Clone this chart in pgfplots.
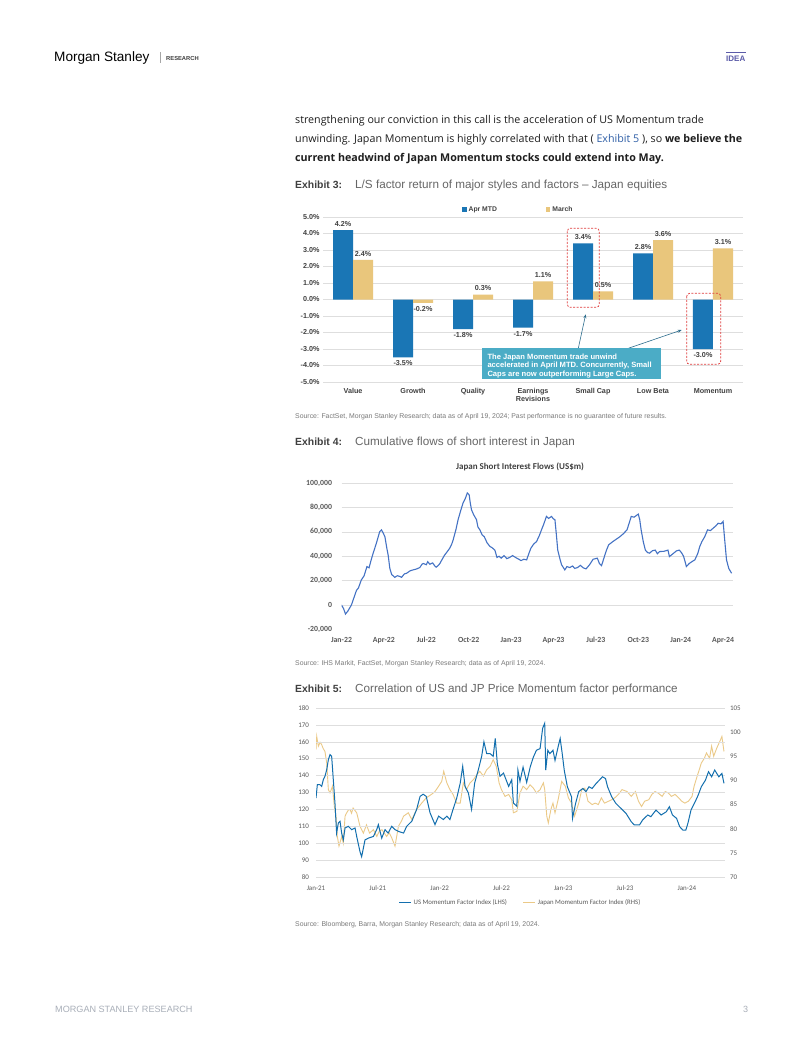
\documentclass[border=0pt]{standalone}
\usepackage{fontspec}
\setmainfont{Liberation Sans}
\newfontfamily\osans{Open Sans}
\newfontfamily\carl{Carlito}
\usepackage{pgfplots}
\pgfplotsset{compat=1.18}
\usetikzlibrary{arrows.meta}
\definecolor{barblue}{HTML}{1A76B5}
\definecolor{baryel}{HTML}{E9C67C}
\definecolor{callout}{HTML}{4BACC6}
\definecolor{arrowc}{HTML}{2E6E8E}
\definecolor{boxred}{HTML}{E03C3C}
\definecolor{gridc}{HTML}{DEDEDE}
\definecolor{axg}{HTML}{404040}
\definecolor{axg2}{HTML}{595959}
\definecolor{flowblue}{HTML}{4472C4}
\definecolor{usblue}{HTML}{136FAE}
\definecolor{jpyel}{HTML}{EBC987}
\definecolor{bodytxt}{HTML}{1E1E1E}
\definecolor{subt}{HTML}{666666}
\definecolor{srcc}{HTML}{7A7A7A}
\definecolor{linkb}{HTML}{2F5FA7}
\definecolor{ideac}{HTML}{5B5BA8}
\definecolor{footc}{HTML}{A8AEB8}
\newcommand{\fs}[1]{\fontsize{#1}{#1}\selectfont}
\newcommand{\fsb}[2]{\fontsize{#1}{#2}\selectfont}
\begin{document}
\begin{tikzpicture}
\useasboundingbox[fill=white] (0pt,0pt) rectangle (802pt,-1037pt);
% header
\node[anchor=base west, inner sep=0pt, font=\fs{13.6}] at (54pt,-61pt) {Morgan Stanley};
\draw[gray!70, line width=0.6pt] (160pt,-52pt) -- (160pt,-63pt);
\node[anchor=base west, inner sep=0pt, font=\bfseries\fs{5.8}, text=axg] at (166pt,-60pt) {RESEARCH};
\draw[ideac, line width=1pt] (726pt,-52pt) -- (746pt,-52pt);
\node[anchor=base west, inner sep=0pt, font=\bfseries\fs{8}, text=ideac] at (726pt,-61pt) {IDEA};
% footer
\node[anchor=base west, inner sep=0pt, font=\fs{9.1}, text=footc] at (55pt,-1012pt) {MORGAN STANLEY RESEARCH};
\node[anchor=base west, inner sep=0pt, font=\fs{9}, text=footc] at (743pt,-1012pt) {3};
% body
\node[anchor=base west, inner sep=0pt, font=\osans\fs{10.7}, text=bodytxt] at (295pt,-123pt) {strengthening our conviction in this call is the acceleration of US Momentum trade};
\node[anchor=base west, inner sep=0pt, font=\osans\fs{10.7}, text=bodytxt] at (295pt,-142pt) {unwinding. Japan Momentum is highly correlated with that ( \textcolor{linkb}{Exhibit 5} ), so \textbf{we believe the}};
\node[anchor=base west, inner sep=0pt, font=\osans\bfseries\fs{10.7}, text=bodytxt] at (295pt,-161pt) {current headwind of Japan Momentum stocks could extend into May.};
% exhibit titles
\node[anchor=base west, inner sep=0pt, font=\bfseries\fs{10.4}, text=axg] at (295pt,-188pt) {Exhibit 3:};
\node[anchor=base west, inner sep=0pt, font=\fs{11.7}, text=subt] at (355pt,-188pt) {L/S factor return of major styles and factors -- Japan equities};
\node[anchor=base west, inner sep=0pt, font=\fs{6.9}, text=srcc] at (295pt,-418pt) {Source: FactSet, Morgan Stanley Research; data as of April 19, 2024; Past performance is no guarantee of future results.};
\node[anchor=base west, inner sep=0pt, font=\bfseries\fs{10.4}, text=axg] at (295pt,-445pt) {Exhibit 4:};
\node[anchor=base west, inner sep=0pt, font=\fs{11.7}, text=subt] at (355pt,-445pt) {Cumulative flows of short interest in Japan};
\node[anchor=base west, inner sep=0pt, font=\fs{6.9}, text=srcc] at (295pt,-665.5pt) {Source: IHS Markit, FactSet, Morgan Stanley Research; data as of April 19, 2024.};
\node[anchor=base west, inner sep=0pt, font=\bfseries\fs{10.4}, text=axg] at (295pt,-692pt) {Exhibit 5:};
\node[anchor=base west, inner sep=0pt, font=\fs{11.7}, text=subt] at (355pt,-692pt) {Correlation of US and JP Price Momentum factor performance};
\node[anchor=base west, inner sep=0pt, font=\fs{6.9}, text=srcc] at (295pt,-926pt) {Source: Bloomberg, Barra, Morgan Stanley Research; data as of April 19, 2024.};

% ===== Exhibit 3 =====
\begin{axis}[
  at={(323pt,-217pt)}, anchor=north west, scale only axis,
  width=420pt, height=165pt,
  xmin=-0.5, xmax=6.5, ymin=-5, ymax=5,
  ybar=0pt, bar width=20pt,
  axis line style={draw=none}, tick style={draw=none}, major tick length=0pt,
  ymajorgrids, grid style={draw=gridc, line width=0.6pt},
  ytick={-5,-4,-3,-2,-1,0,1,2,3,4,5},
  yticklabels={-5.0\%,-4.0\%,-3.0\%,-2.0\%,-1.0\%,0.0\%,1.0\%,2.0\%,3.0\%,4.0\%,5.0\%},
  xtick={0,1,2,3,4,5,6},
  xticklabels={Value,Growth,Quality,{Earnings\\Revisions},Small Cap,Low Beta,Momentum},
  ticklabel style={font=\bfseries\fs{7.2}, text=axg},
  xticklabel style={align=center, yshift=-3pt, font={\bfseries\fsb{7.2}{8}}},
  point meta=y,
  nodes near coords={\pgfmathprintnumber[fixed,fixed zerofill,precision=1,assume math mode=true]{\pgfplotspointmeta}\%},
  nodes near coords align={vertical},
  nodes near coords style={font=\bfseries\fs{7.2}, text=axg},
  legend style={at={(0.465,1)}, anchor=south, draw=none, fill=none, font=\bfseries\fs{6.8}, text=axg},
  legend columns=2,
  legend style={/tikz/every even column/.append style={column sep=47pt}},
  legend cell align=left,
]
\addplot[fill=barblue, draw=none, legend image code/.code={\fill[barblue] (0pt,-2.2pt) rectangle (4.5pt,2.2pt);}]
  coordinates {(0,4.2) (1,-3.5) (2,-1.8) (3,-1.7) (4,3.4) (5,2.8) (6,-3.0)};
\addlegendentry{Apr MTD}
\addplot[fill=baryel, draw=none, legend image code/.code={\fill[baryel] (0pt,-2.2pt) rectangle (4.5pt,2.2pt);}]
  coordinates {(0,2.4) (1,-0.2) (2,0.3) (3,1.1) (4,0.5) (5,3.6) (6,3.1)};
\addlegendentry{March}
\end{axis}
% annotations exhibit 3
\draw[boxred, line width=0.7pt, dash pattern=on 2pt off 1.5pt, rounded corners=3pt] (567.3pt,-228.3pt) rectangle (599.3pt,-307.3pt);
\draw[boxred, line width=0.7pt, dash pattern=on 2pt off 1.5pt, rounded corners=3pt] (686.7pt,-293.3pt) rectangle (720.7pt,-364.3pt);
\draw[arrowc, line width=0.6pt, -{Stealth[length=4pt,width=3pt]}] (578.3pt,-348.3pt) -- (585.7pt,-314.3pt);
\draw[arrowc, line width=0.6pt, -{Stealth[length=4pt,width=3pt]}] (628.3pt,-348.3pt) -- (681.7pt,-330pt);
\fill[callout] (482pt,-348pt) rectangle (661pt,-379pt);
\node[anchor=north west, inner sep=0pt, align=left, text=white, font={\bfseries\fsb{7.6}{8.4}}] at (487.3pt,-353.5pt)
  {The Japan Momentum trade unwind\\accelerated in April MTD. Concurrently, Small\\Caps are now outperforming Large Caps.};

% ===== Exhibit 4 =====
\node[font=\carl\bfseries\fs{9}, text=axg] at (520pt,-467pt) {Japan Short Interest Flows (US\$m)};
\begin{axis}[
  at={(341.5pt,-483pt)}, anchor=north west, scale only axis,
  width=391.5pt, height=146.4pt,
  xmin=0, xmax=27.7, ymin=-20000, ymax=100000,
  axis line style={draw=none}, tick style={draw=none}, major tick length=0pt,
  ymajorgrids, grid style={draw=gridc, line width=0.6pt},
  scaled y ticks=false,
  ytick={0,20000,40000,60000,80000,100000},
  yticklabels={0,{20,000},{40,000},{60,000},{80,000},{100,000}},
  extra y ticks={-20000}, extra y tick labels={-20{,}000},
  extra y tick style={grid=none},
  xtick={0,3,6,9,12,15,18,21,24,27},
  xticklabels={Jan-22,Apr-22,Jul-22,Oct-22,Jan-23,Apr-23,Jul-23,Oct-23,Jan-24,Apr-24},
  ticklabel style={font=\carl\bfseries\fs{7.8}, text=axg2},
  yticklabel style={xshift=-6pt},
  xticklabel style={yshift=-4.5pt},
]
\addplot[flowblue, line width=1.1pt] coordinates {
(0,0) (0.15,-3000) (0.28,-7400) (0.45,-5000) (0.6,-2000) (0.7,0) (0.85,5000) (1.06,12000) (1.2,14000) (1.4,20500) (1.6,24000) (1.8,31500) (1.95,30500) (2.1,37000) (2.24,42500) (2.45,50000) (2.7,60000) (2.83,61600) (2.95,59000) (3.07,56000) (3.2,47000) (3.3,41000) (3.42,30000) (3.55,25000) (3.77,22700) (3.95,24000) (4.1,23500) (4.25,22700) (4.45,25500) (4.6,26000) (4.85,28000) (5.07,28800) (5.3,29500) (5.54,30700) (5.7,33500) (5.8,34000) (6.0,33000) (6.1,35500) (6.25,33400) (6.45,34500) (6.6,32000) (6.7,31000) (6.85,32500) (6.96,34000) (7.1,37000) (7.3,41000) (7.5,44000) (7.66,46600) (7.8,50000) (7.9,53400) (8.1,62000) (8.25,70000) (8.45,78000) (8.6,83600) (8.75,87000) (8.9,91800) (9.03,90400) (9.12,83000) (9.2,78000) (9.35,74000) (9.55,70000) (9.65,64000) (9.79,61600) (9.95,57500) (10.1,56000) (10.3,51000) (10.5,48000) (10.65,47000) (10.85,45000) (11.0,39000) (11.15,40000) (11.3,38400) (11.5,40500) (11.7,38000) (11.9,39000) (12.1,40500) (12.4,38400) (12.55,37500) (12.7,36400) (12.9,37500) (13.1,37000) (13.25,42000) (13.4,46600) (13.6,50000) (13.8,52000) (14.0,57000) (14.15,61600) (14.3,66000) (14.5,72600) (14.65,71000) (14.86,72600) (15.0,70500) (15.1,70000) (15.2,58000) (15.3,45000) (15.45,38000) (15.57,33000) (15.8,28800) (15.95,31500) (16.15,30700) (16.35,32000) (16.5,30000) (16.7,30700) (16.9,32500) (17.1,30500) (17.3,29600) (17.55,33000) (17.8,37500) (18.1,38400) (18.25,34000) (18.4,32300) (18.6,39700) (18.75,45000) (18.9,49300) (19.2,52000) (19.45,54000) (19.7,56000) (19.95,58500) (20.2,61600) (20.35,67000) (20.5,72600) (20.7,72000) (21.0,74500) (21.1,70000) (21.2,61600) (21.35,52000) (21.5,45000) (21.65,43000) (21.8,42500) (22.0,44500) (22.2,45000) (22.35,42000) (22.5,43800) (22.8,44000) (23.1,45000) (23.2,39700) (23.45,42000) (23.7,44400) (23.9,45000) (24.05,43000) (24.2,40000) (24.3,36000) (24.4,31500) (24.6,34000) (24.8,35600) (25.0,37000) (25.2,42000) (25.35,48000) (25.5,52000) (25.7,56000) (25.9,61600) (26.1,61000) (26.3,63000) (26.5,65000) (26.65,67000) (26.85,66500) (27.0,68500) (27.1,55000) (27.24,37000) (27.4,30000) (27.6,26000)
};
\end{axis}

% ===== Exhibit 5 (right axis, Japan) =====
\begin{axis}[
  at={(316pt,-708pt)}, anchor=north west, scale only axis,
  width=409pt, height=169pt,
  xmin=0, xmax=39.7, ymin=70, ymax=105,
  axis line style={draw=none}, tick style={draw=none}, major tick length=0pt,
  xtick=\empty,
  ytick={70,75,80,85,90,95,100,105},
  yticklabels={70,75,80,85,90,95,100,105},
  yticklabel pos=right,
  ticklabel style={font=\carl\fs{7}, text=axg2},
  yticklabel style={xshift=1.5pt},
  legend style={at={(0.5,0)}, anchor=north, yshift=-18pt, draw=none, fill=none,
    font=\carl\fs{6.8}, text=axg2},
  legend columns=2,
  legend style={/tikz/every even column/.append style={column sep=14pt}},
  legend image code/.code={\draw[#1] (0pt,0pt) -- (12pt,0pt);},
]
\addlegendimage{usblue, line width=1pt}
\addlegendentry{US Momentum Factor Index (LHS)}
\addplot[jpyel, line width=0.9pt] coordinates {
(0,96.4) (0.07,99.1) (0.23,97.1) (0.4,97.9) (0.55,97.4) (0.7,96.6) (0.87,96.0) (1.04,93.6) (1.2,88.1) (1.36,87.4) (1.6,88.8) (1.78,84.6) (1.94,82.6) (2.07,78.4) (2.23,76.4) (2.5,78.4) (2.65,77.0) (2.82,82.6) (2.98,83.3) (3.15,83.9) (3.3,84.0) (3.45,83.2) (3.6,84.3) (3.95,83.3) (4.1,82.0) (4.27,80.5) (4.6,79.1) (4.9,80.8) (5.2,79.1) (5.57,79.8) (5.9,78.4) (6.15,79.5) (6.4,79.8) (6.86,78.4) (7.1,79.2) (7.35,78.1) (7.67,76.4) (8.0,80.5) (8.3,81.6) (8.5,82.6) (8.96,83.3) (9.3,81.9) (9.77,84.0) (10.26,85.3) (10.7,86.4) (11.2,87.1) (11.55,87.7) (11.9,88.8) (12.2,89.8) (12.4,91.9) (12.7,89.5) (13.0,88.1) (13.3,87.1) (13.66,85.3) (14.0,85.3) (14.3,89.5) (14.6,88.1) (14.95,89.5) (15.3,90.2) (15.6,91.2) (15.9,91.9) (16.25,90.9) (16.57,92.2) (16.9,92.9) (17.2,94.3) (17.5,92.9) (17.77,89.5) (18.0,88.1) (18.35,86.7) (18.7,87.1) (19.0,86.0) (19.16,83.3) (19.5,83.6) (19.8,87.4) (20.1,88.8) (20.45,88.1) (20.78,89.1) (21.1,88.4) (21.4,87.4) (21.75,88.1) (22.07,89.5) (22.2,88.1) (22.4,82.6) (22.55,81.2) (22.8,84.0) (23.0,85.3) (23.2,83.3) (23.5,86.0) (23.85,89.8) (24.2,88.8) (24.5,86.4) (24.8,85.3) (25.1,82.6) (25.5,85.3) (25.8,88.1) (26.1,88.4) (26.4,85.7) (26.8,85.0) (27.1,85.3) (27.4,85.0) (27.7,86.4) (28.0,85.3) (28.4,85.7) (28.7,86.0) (29.0,86.4) (29.35,87.1) (29.7,88.1) (30.2,87.7) (30.6,86.7) (31.0,87.7) (31.3,85.7) (31.6,84.6) (31.9,85.7) (32.3,86.0) (32.6,87.1) (32.9,87.7) (33.2,87.4) (33.6,86.7) (33.9,87.7) (34.2,87.4) (34.5,86.7) (34.85,87.1) (35.2,86.4) (35.5,85.7) (35.8,85.3) (36.15,85.7) (36.5,86.7) (36.7,88.8) (37.0,90.9) (37.2,92.2) (37.4,93.6) (37.7,94.6) (37.9,95.7) (38.2,94.6) (38.4,97.1) (38.6,95.0) (38.9,96.7) (39.2,98.1) (39.4,99.1) (39.6,96.0)
};
\addlegendentry{Japan Momentum Factor Index (RHS)}
\end{axis}
% ===== Exhibit 5 (left axis, US) =====
\begin{axis}[
  at={(316pt,-708pt)}, anchor=north west, scale only axis,
  width=409pt, height=169pt,
  xmin=0, xmax=39.7, ymin=80, ymax=180,
  axis line style={draw=none}, tick style={draw=none}, major tick length=0pt,
  ymajorgrids, grid style={draw=gridc, line width=0.6pt},
  ytick={80,90,100,110,120,130,140,150,160,170,180},
  yticklabels={80,90,100,110,120,130,140,150,160,170,180},
  xtick={0,6,12,18,24,30,36},
  xticklabels={Jan-21,Jul-21,Jan-22,Jul-22,Jan-23,Jul-23,Jan-24},
  ticklabel style={font=\carl\fs{7}, text=axg2},
  yticklabel style={xshift=-3.5pt},
  xticklabel style={yshift=-5pt},
]
\addplot[usblue, line width=1pt] coordinates {
(0,126.7) (0.13,134.6) (0.39,134.6) (0.55,133.6) (0.71,137.6) (0.87,139.6) (1.04,143.5) (1.2,149.4) (1.36,152.4) (1.52,151.4) (1.68,137.6) (1.84,123.8) (2.0,106.0) (2.17,112.0) (2.33,113.0) (2.49,106.0) (2.65,102.0) (2.82,109.0) (3.14,110.0) (3.46,108.0) (3.79,109.0) (3.95,104.0) (4.27,95.0) (4.43,92.0) (4.76,102.0) (5.08,103.0) (5.57,104.0) (5.89,108.0) (6.05,111.0) (6.38,103.0) (6.7,108.0) (7.0,106.0) (7.35,110.0) (7.67,108.0) (8.0,107.0) (8.5,106.0) (8.8,110.0) (9.3,113.0) (9.77,120.0) (10.1,127.7) (10.4,129.0) (10.7,127.7) (11.07,118.0) (11.55,111.0) (11.9,116.0) (12.36,114.0) (12.7,116.0) (13.0,114.0) (13.3,120.0) (13.66,126.7) (14.0,135.6) (14.24,145.5) (14.47,133.6) (14.79,129.7) (15.1,120.0) (15.4,135.6) (15.76,143.5) (16.08,151.4) (16.3,160.0) (16.57,153.0) (16.9,153.0) (17.2,151.4) (17.4,162.0) (17.6,147.0) (17.86,139.6) (18.2,141.5) (18.7,133.6) (19.0,137.6) (19.16,123.8) (19.5,121.8) (19.6,143.3) (19.8,136.6) (20.1,145.0) (20.45,136.0) (20.8,145.3) (21.1,151.0) (21.4,155.0) (21.75,156.0) (22.0,168.0) (22.2,171.0) (22.3,143.3) (22.5,155.0) (22.7,153.0) (23.0,155.0) (23.2,149.0) (23.5,157.0) (23.7,162.0) (23.9,153.0) (24.1,143.0) (24.4,133.4) (24.8,127.5) (24.9,114.7) (25.2,123.6) (25.5,130.5) (25.9,132.4) (26.2,130.5) (26.5,133.4) (26.8,132.4) (27.2,135.4) (27.5,137.3) (27.8,139.3) (28.1,138.3) (28.3,133.4) (28.7,127.5) (29.1,123.6) (29.6,120.6) (30.1,117.6) (30.6,112.7) (30.9,110.8) (31.4,110.8) (31.7,113.7) (32.2,116.7) (32.5,115.7) (33.0,119.6) (33.5,116.7) (34.0,118.6) (34.3,121.6) (34.6,116.7) (35.0,114.7) (35.3,109.8) (35.6,107.8) (35.9,107.8) (36.1,111.8) (36.4,119.6) (36.8,124.5) (37.1,128.5) (37.4,133.4) (37.8,137.3) (38.1,142.3) (38.4,139.3) (38.7,143.3) (39.1,139.3) (39.4,141.3) (39.6,135.4)
};
\end{axis}
\end{tikzpicture}
\end{document}
